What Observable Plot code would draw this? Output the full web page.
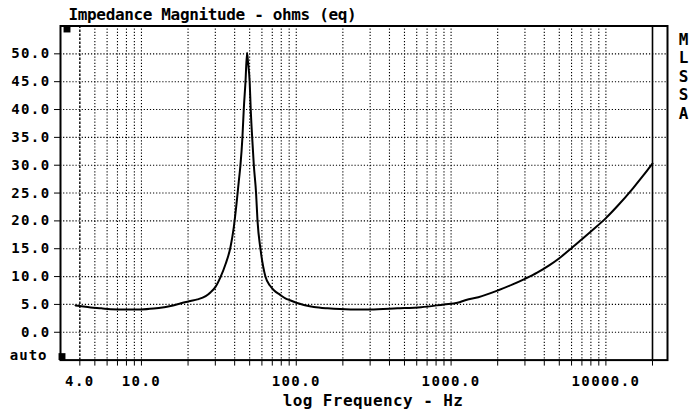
<!DOCTYPE html>
<html>
<head>
<meta charset="utf-8">
<script src="https://cdn.jsdelivr.net/npm/d3@7"></script>
<script src="https://cdn.jsdelivr.net/npm/@observablehq/plot@0.6"></script>
<style>
  html, body { margin: 0; padding: 0; background: #fff; }
  #chart svg { display: block; }
</style>
</head>
<body>
<div id="chart"></div>
<script>
// Loudspeaker impedance sweep (MLSSA), magnitude in ohms against log frequency
const freqHz = [3.75, 4, 4.7, 5.5, 6.3, 8, 10, 12, 14, 16, 18, 20.7, 23, 26, 28, 30, 32.4, 35, 37.6, 39.5,
  41.1, 42.5, 43.6, 44.9, 45.8, 47, 48.1, 48.8, 50, 50.8, 51.9, 53.2, 55, 56.2, 58.7, 63.2, 68, 72, 78, 85,
  92, 100, 112, 130, 159, 224, 300, 450, 640, 900, 1100, 1250, 1500, 2000, 2500, 3000, 3600, 4300, 5000,
  6000, 7000, 8000, 10000, 12000, 15000, 17500, 20000];
const ohms = [4.8, 4.7, 4.45, 4.3, 4.15, 4.1, 4.1, 4.25, 4.5, 4.8, 5.2, 5.6, 5.9, 6.5, 7.2, 8.1, 9.9, 12.3, 15.3, 18.9,
  23, 27, 30, 35, 40, 45, 50.2, 48.5, 45, 40, 35, 30, 25, 20, 15, 10, 8.3, 7.5, 6.8, 6.1,
  5.7, 5.3, 4.9, 4.55, 4.3, 4.1, 4.1, 4.3, 4.5, 5.0, 5.3, 5.8, 6.3, 7.5, 8.6, 9.6, 10.7, 12.0, 13.3,
  15.1, 16.7, 18.1, 20.5, 22.8, 25.9, 28.2, 30.3];

// Axis ranges, ticks and labels
const xDomain = [3, 25000];
const yDomain = [-5, 55];
const yTicks = [0, 5, 10, 15, 20, 25, 30, 35, 40, 45, 50];
const xGrid = [5, 6, 7, 8, 9, 10, 20, 30, 40, 50, 60, 70, 80, 90, 100, 200, 300, 400, 500, 600, 700, 800, 900,
  1000, 2000, 3000, 4000, 5000, 6000, 7000, 8000, 9000, 10000];
const xStart = 4;          // first sweep frequency, drawn as a dashed marker
const xStop = 20000;       // last sweep frequency, drawn as a solid marker
const xTicks = [xStart, ...xGrid, xStop];
const xTickLabels = [4, 10, 100, 1000, 10000];
const autoLevel = -4.2;
const autoText = "auto";
const titleText = "Impedance Magnitude - ohms (eq)";
const xLabelText = "log Frequency - Hz";
const badgeText = "MLSSA";

const mono = "'DejaVu Sans Mono', monospace";
const data = freqHz.map((f, i) => ({f, z: ohms[i]}));
const dotted = {stroke: "#000", strokeWidth: 1.1, strokeDasharray: "1.2,1.9"};
const bold = {fontWeight: "bold", fontFamily: mono};

const chart = Plot.plot({
  width: 700,
  height: 413,
  marginLeft: 60,
  marginRight: 33,
  marginTop: 25.5,
  marginBottom: 53.4,
  style: {fontFamily: mono, fontWeight: "bold", color: "#000", background: "#fff"},
  x: {type: "log", domain: xDomain},
  y: {domain: yDomain},
  marks: [
    Plot.ruleY(yTicks, dotted),
    Plot.ruleX(xGrid, dotted),
    Plot.ruleX([xStart], {stroke: "#000", strokeWidth: 1.4, strokeDasharray: "2.5,1.5"}),
    Plot.ruleX([xStop], {stroke: "#000", strokeWidth: 1.6}),
    Plot.frame({stroke: "#000", strokeWidth: 2}),
    Plot.axisY(yTicks, {
      tickSize: 6, tickPadding: 4, tickFormat: d => d.toFixed(1),
      fontSize: 14, ...bold, label: null
    }),
    Plot.axisX(xTicks, {tickSize: 6, tickFormat: () => "", label: null}),
    Plot.text(xTickLabels, {
      x: d => d, text: d => d.toFixed(1), frameAnchor: "bottom", lineAnchor: "middle", dy: 21,
      fontSize: 14, ...bold
    }),
    Plot.text([autoText], {
      y: [autoLevel], frameAnchor: "left", textAnchor: "end", dx: -13,
      fontSize: 14, ...bold
    }),
    Plot.line(data, {x: "f", y: "z", stroke: "#000", strokeWidth: 2, curve: "monotone-x"}),
    Plot.dot([0], {frameAnchor: "top-left", symbol: "square", r: 3.9, fill: "#000", dx: 6.5, dy: 3}),
    Plot.dot([0], {frameAnchor: "bottom-left", symbol: "square", r: 3.9, fill: "#000", dx: 1.5, dy: -3.5}),
    Plot.text([titleText], {
      frameAnchor: "top-left", textAnchor: "start", lineAnchor: "middle", dx: 8, dy: -11.5,
      fontSize: 16, ...bold
    }),
    Plot.text([xLabelText], {
      frameAnchor: "bottom", lineAnchor: "middle", dx: 9, dy: 41,
      fontSize: 16, ...bold
    }),
    Plot.text([badgeText.split("").join("\n")], {
      frameAnchor: "top-right", textAnchor: "middle", lineAnchor: "top", dx: 16, dy: 6, lineHeight: 1.15,
      fontSize: 16, ...bold
    })
  ]
});

document.getElementById("chart").appendChild(chart);

// Letter spacing for the printout-style lettering
const spacing = new Map([[titleText, "-0.35px"], [xLabelText, "0.4px"], [autoText, "1px"]]);
d3.select(chart).selectAll("text").each(function () {
  const t = this.textContent;
  if (spacing.has(t)) d3.select(this).style("letter-spacing", spacing.get(t));
  else if (/^\d+\.\d$/.test(t)) d3.select(this).style("letter-spacing", "1.4px");
});
</script>
</body>
</html>
